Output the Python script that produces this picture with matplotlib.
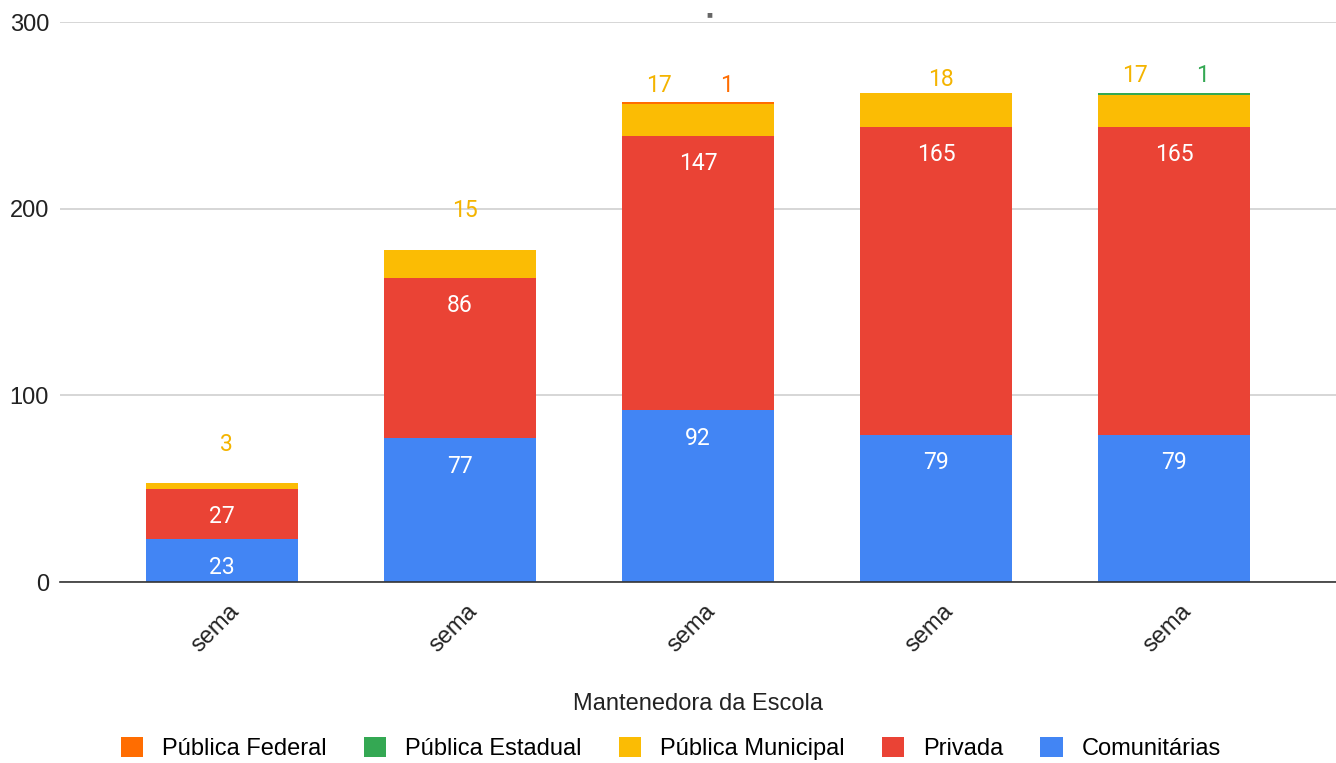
import matplotlib
matplotlib.use("Agg")
import matplotlib.pyplot as plt
import matplotlib.transforms as mtransforms
import numpy as np

plt.rcParams['font.family'] = ['Liberation Sans', 'DejaVu Sans']

categories = ["sema", "sema", "sema", "sema", "sema"]
comunitarias = [23, 77, 92, 79, 79]
privada = [27, 86, 147, 165, 165]
municipal = [3, 15, 17, 18, 17]
estadual = [0, 0, 0, 0, 1]
federal = [0, 0, 1, 0, 0]
yticks = [0, 100, 200, 300]

series = [
    ("Comunitárias", comunitarias, "#4285F4"),
    ("Privada", privada, "#EA4335"),
    ("Pública Municipal", municipal, "#FBBC04"),
    ("Pública Estadual", estadual, "#34A853"),
    ("Pública Federal", federal, "#FF6D01"),
]

LBL_FONT = ['Roboto', 'DejaVu Sans']
LBL_SIZE = 16.5
AX_SIZE = 17

fig = plt.figure(figsize=(13.36, 7.63), dpi=100)
ax = fig.add_axes([0.045, 0.237, 0.955, 0.734])
x = np.arange(len(categories))
width = 0.64
bottom = np.zeros(len(categories))
handles = {}
for name, vals, col in series:
    vals = np.array(vals, dtype=float)
    h = ax.bar(x, vals, width, bottom=bottom, color=col, label=name, zorder=3)
    handles[name] = h
    if name in ("Comunitárias", "Privada"):
        for xi, b, v in zip(x, bottom, vals):
            ax.annotate(f"{int(v)}", (xi, b + v), xytext=(0, -20), textcoords="offset points",
                        ha="center", va="center", color="white", fontsize=LBL_SIZE,
                        family=LBL_FONT, zorder=4)
    bottom = bottom + vals

totals = bottom
muni = np.array(municipal)
est = np.array(estadual)
fed = np.array(federal)
for i in range(len(categories)):
    extra = est[i] + fed[i]
    if extra > 0:
        off = 12.5
        ax.annotate(f"{muni[i]}", (x[i] - 0.165, totals[i]), xytext=(0, off), textcoords="offset points",
                    ha="center", va="center", color="#F4B400", fontsize=LBL_SIZE, family=LBL_FONT, zorder=4)
        other_col = "#34A853" if est[i] > 0 else "#FF6D01"
        ax.annotate(f"{int(extra)}", (x[i] + 0.12, totals[i]), xytext=(0, off), textcoords="offset points",
                    ha="center", va="center", color=other_col, fontsize=LBL_SIZE, family=LBL_FONT, zorder=4)
    else:
        off = 28 if totals[i] < 200 else 9.5
        ax.annotate(f"{muni[i]}", (x[i] + 0.02, totals[i]), xytext=(0, off), textcoords="offset points",
                    ha="center", va="center", color="#F4B400", fontsize=LBL_SIZE, family=LBL_FONT, zorder=4)

ax.set_xlim(-0.68, len(categories) - 1 + 0.68)
ax.set_ylim(0, 300)
ax.set_yticks(yticks)
ax.set_yticklabels([str(t) for t in yticks], fontsize=AX_SIZE, color="#222222")
ax.yaxis.grid(True, color="#d0d0d0", linewidth=1.2, zorder=0)
ax.set_axisbelow(True)
ax.tick_params(axis="y", length=0, pad=8)
ax.tick_params(axis="x", length=0, pad=13)
ax.set_xticks(x)
ax.set_xticklabels(categories, rotation=45, ha="right", rotation_mode="anchor", fontsize=AX_SIZE, color="#222222")
shift = mtransforms.ScaledTranslation(6 / 100, 0, fig.dpi_scale_trans)
for lab in ax.get_xticklabels():
    lab.set_transform(lab.get_transform() + shift)
for s in ("top", "right", "left"):
    ax.spines[s].set_visible(False)
ax.spines["bottom"].set_color("#333333")
ax.spines["bottom"].set_linewidth(1.2)
ax.spines["bottom"].set_zorder(5)
ax.set_xlabel("Mantenedora da Escola", fontsize=AX_SIZE, color="#222222", labelpad=26)

order = ["Pública Federal", "Pública Estadual", "Pública Municipal", "Privada", "Comunitárias"]
fig.legend([handles[n] for n in order], order, loc="center", bbox_to_anchor=(0.502, 0.019),
           ncol=5, frameon=False, fontsize=AX_SIZE, handlelength=0.95, handleheight=0.95,
           columnspacing=1.57, handletextpad=0.8)

fig.text(0.531, 0.982, "■", fontsize=7, color="#666666", ha="center", va="center")

fig.savefig("out.png", dpi=100, facecolor="white")
